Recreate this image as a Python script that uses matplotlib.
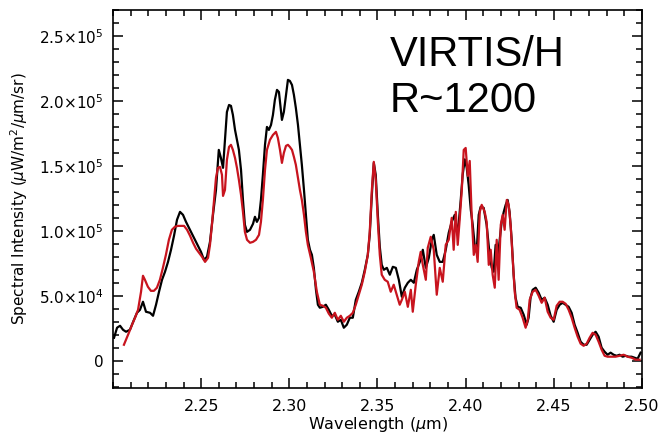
import numpy as np
import matplotlib
matplotlib.use('Agg')
import matplotlib.pyplot as plt
from matplotlib.ticker import MultipleLocator, FixedLocator

# ----------------------------------------------------------------------------------------------------------------------
# spectra (wavelength in um, intensity in uW/m2/um/sr)

wl_obs = [2.2006, 2.2023, 2.2040, 2.2057, 2.2074, 2.2096, 2.2119, 2.2136, 2.2153, 2.2170,
          2.2187, 2.2210, 2.2227, 2.2244, 2.2261, 2.2278, 2.2295, 2.2312, 2.2329, 2.2346,
          2.2363, 2.2380, 2.2397, 2.2414, 2.2431, 2.2448, 2.2465, 2.2482, 2.2499, 2.2516,
          2.2533, 2.2550, 2.2567, 2.2584, 2.2600, 2.2612, 2.2624, 2.2635, 2.2646, 2.2658,
          2.2669, 2.2680, 2.2692, 2.2703, 2.2714, 2.2726, 2.2737, 2.2748, 2.2760, 2.2777,
          2.2794, 2.2805, 2.2816, 2.2828, 2.2839, 2.2850, 2.2862, 2.2873, 2.2884, 2.2896,
          2.2907, 2.2918, 2.2930, 2.2941, 2.2952, 2.2958, 2.2969, 2.2981, 2.2992, 2.3003,
          2.3015, 2.3026, 2.3037, 2.3049, 2.3060, 2.3071, 2.3083, 2.3094, 2.3105, 2.3117,
          2.3128, 2.3139, 2.3151, 2.3162, 2.3173, 2.3190, 2.3207, 2.3224, 2.3241, 2.3258,
          2.3275, 2.3292, 2.3309, 2.3326, 2.3343, 2.3360, 2.3377, 2.3394, 2.3411, 2.3428,
          2.3445, 2.3456, 2.3468, 2.3479, 2.3490, 2.3502, 2.3513, 2.3524, 2.3536, 2.3553,
          2.3570, 2.3587, 2.3604, 2.3621, 2.3638, 2.3655, 2.3672, 2.3689, 2.3706, 2.3723,
          2.3740, 2.3757, 2.3774, 2.3791, 2.3808, 2.3819, 2.3836, 2.3853, 2.3870, 2.3887,
          2.3904, 2.3921, 2.3938, 2.3955, 2.3972, 2.3983, 2.3995, 2.4006, 2.4017, 2.4029,
          2.4040, 2.4051, 2.4063, 2.4074, 2.4085, 2.4102, 2.4119, 2.4136, 2.4148, 2.4159,
          2.4170, 2.4182, 2.4193, 2.4204, 2.4216, 2.4227, 2.4238, 2.4249, 2.4261, 2.4272,
          2.4283, 2.4295, 2.4312, 2.4329, 2.4346, 2.4357, 2.4368, 2.4380, 2.4397, 2.4414,
          2.4431, 2.4448, 2.4465, 2.4482, 2.4499, 2.4516, 2.4533, 2.4550, 2.4567, 2.4584,
          2.4601, 2.4618, 2.4635, 2.4652, 2.4669, 2.4686, 2.4703, 2.4720, 2.4737, 2.4754,
          2.4771, 2.4788, 2.4805, 2.4822, 2.4839, 2.4856, 2.4873, 2.4890, 2.4907, 2.4924,
          2.4941, 2.4958, 2.4975, 2.4992]
obs = [17700, 25400, 26900, 23800, 22300, 23800, 31500, 36900, 39200, 45400,
       37700, 36900, 34600, 43100, 53100, 62300, 68500, 76100, 85400, 96200,
       108500, 114600, 112300, 106900, 102300, 97700, 93100, 88500, 83800, 77700,
       80000, 91500, 112300, 131500, 162300, 156100, 148500, 170000, 191500, 196900,
       196200, 189200, 177700, 170000, 162300, 146900, 123800, 104600, 99200, 100800,
       105400, 110800, 106900, 110000, 123800, 143100, 166200, 180000, 177700, 181500,
       189200, 200800, 208500, 206900, 193100, 185400, 191500, 204600, 216200, 215400,
       212300, 204600, 194600, 181500, 166200, 150800, 131500, 112300, 93100, 85400,
       81500, 71500, 54600, 43100, 40800, 41500, 43100, 39200, 34600, 35400,
       30000, 31500, 25400, 27700, 33100, 33100, 46900, 53100, 60000, 70000,
       81500, 96900, 127700, 152300, 143100, 112300, 87700, 73800, 70000, 71500,
       66200, 72300, 71500, 62300, 49200, 56200, 60000, 62300, 60000, 70000,
       76100, 85400, 71500, 79200, 93100, 96900, 81500, 76100, 76100, 85400,
       98500, 106900, 112300, 96900, 123800, 143100, 155000, 148500, 135400, 116200,
       104600, 89200, 85400, 112300, 118500, 117700, 104600, 81500, 71500, 68500,
       89200, 79200, 93100, 106900, 114600, 120000, 123800, 114600, 93100, 66200,
       48500, 41500, 40800, 35400, 27700, 33100, 48500, 54600, 56200, 52300,
       46900, 48500, 43100, 34600, 30000, 39200, 43100, 44600, 43100, 41500,
       36900, 27700, 21500, 14600, 12300, 12300, 16200, 20000, 22300, 18500,
       10000, 6900, 4600, 6200, 4600, 3800, 4600, 3100, 3800, 3100,
       3100, 2300, 1500, 6200]

wl_mod = [2.2062, 2.2074, 2.2090, 2.2108, 2.2125, 2.2142, 2.2159, 2.2170, 2.2181, 2.2198,
          2.2215, 2.2232, 2.2249, 2.2266, 2.2283, 2.2300, 2.2317, 2.2334, 2.2351, 2.2368,
          2.2386, 2.2403, 2.2420, 2.2437, 2.2454, 2.2471, 2.2488, 2.2505, 2.2522, 2.2539,
          2.2550, 2.2561, 2.2573, 2.2584, 2.2595, 2.2607, 2.2618, 2.2624, 2.2635, 2.2646,
          2.2658, 2.2669, 2.2680, 2.2692, 2.2703, 2.2714, 2.2726, 2.2737, 2.2748, 2.2760,
          2.2777, 2.2794, 2.2811, 2.2828, 2.2839, 2.2850, 2.2862, 2.2873, 2.2890, 2.2907,
          2.2924, 2.2935, 2.2947, 2.2958, 2.2969, 2.2981, 2.2992, 2.3003, 2.3015, 2.3026,
          2.3037, 2.3049, 2.3060, 2.3071, 2.3083, 2.3094, 2.3105, 2.3122, 2.3139, 2.3156,
          2.3173, 2.3190, 2.3207, 2.3224, 2.3241, 2.3258, 2.3275, 2.3292, 2.3309, 2.3326,
          2.3343, 2.3360, 2.3377, 2.3394, 2.3411, 2.3428, 2.3445, 2.3456, 2.3468, 2.3479,
          2.3490, 2.3502, 2.3513, 2.3524, 2.3541, 2.3558, 2.3575, 2.3592, 2.3609, 2.3626,
          2.3638, 2.3655, 2.3672, 2.3689, 2.3700, 2.3717, 2.3734, 2.3745, 2.3757, 2.3774,
          2.3785, 2.3802, 2.3819, 2.3836, 2.3853, 2.3870, 2.3887, 2.3904, 2.3921, 2.3932,
          2.3944, 2.3955, 2.3966, 2.3978, 2.3989, 2.4000, 2.4012, 2.4023, 2.4034, 2.4046,
          2.4057, 2.4068, 2.4080, 2.4091, 2.4108, 2.4119, 2.4131, 2.4142, 2.4153, 2.4165,
          2.4176, 2.4187, 2.4199, 2.4210, 2.4221, 2.4233, 2.4244, 2.4255, 2.4267, 2.4278,
          2.4289, 2.4306, 2.4323, 2.4340, 2.4352, 2.4363, 2.4380, 2.4397, 2.4414, 2.4431,
          2.4448, 2.4465, 2.4482, 2.4499, 2.4516, 2.4533, 2.4550, 2.4567, 2.4584, 2.4601,
          2.4618, 2.4635, 2.4652, 2.4669, 2.4686, 2.4703, 2.4720, 2.4737, 2.4754, 2.4771,
          2.4788, 2.4805, 2.4828, 2.4850, 2.4873, 2.4896, 2.4918, 2.4941, 2.4964, 2.4986]
model = [12300, 16200, 21500, 27700, 33100, 39200, 53100, 65400, 62300, 56900,
         53800, 53800, 56200, 62300, 71500, 81500, 93100, 100800, 103100, 103800,
         103800, 103800, 100800, 96200, 90800, 86200, 83100, 80000, 76100, 79200,
         89200, 104600, 123800, 140800, 148500, 149200, 143100, 126900, 131500, 154600,
         164600, 166200, 162300, 156100, 148500, 139200, 127700, 114600, 99200, 93100,
         90800, 91500, 93100, 96900, 106900, 123800, 146900, 162300, 170000, 173800,
         176200, 171500, 162300, 152300, 160000, 165400, 166200, 164600, 162300, 156900,
         150800, 140800, 131500, 123800, 112300, 99200, 89200, 79200, 68500, 53100,
         43100, 42300, 40800, 36200, 33100, 36900, 31500, 34600, 30000, 33100,
         34600, 36900, 43100, 50800, 58500, 68500, 81500, 99200, 131500, 153100,
         139200, 106900, 81500, 66200, 62300, 60800, 53100, 58500, 50800, 43100,
         46900, 53100, 41500, 54600, 37700, 58500, 76100, 83800, 73800, 62300,
         86900, 95400, 85400, 50800, 71500, 60800, 89200, 93100, 110000, 85400,
         114600, 89200, 108500, 131500, 162300, 163800, 142300, 153800, 112300, 81500,
         89200, 76100, 114600, 120000, 114600, 106900, 73800, 85400, 66200, 56200,
         93100, 62300, 104600, 112300, 100800, 123800, 120000, 104600, 77700, 53100,
         40800, 39200, 33100, 25400, 31500, 46900, 53100, 54600, 50000, 44600,
         48500, 37700, 33100, 31500, 42300, 45400, 45400, 43800, 39200, 33100,
         25400, 18500, 13100, 11500, 13100, 17700, 21500, 20000, 14600, 8500,
         3800, 3100, 3100, 3100, 3800, 4600, 3100, 2300, 800, 800]

x_ticks = [2.25, 2.30, 2.35, 2.40, 2.45, 2.50]
y_ticks = [0, 5.0e4, 1.0e5, 1.5e5, 2.0e5, 2.5e5]
y_tick_labels = ['0', r'5.0$\times$10$^4$', r'1.0$\times$10$^5$', r'1.5$\times$10$^5$',
                 r'2.0$\times$10$^5$', r'2.5$\times$10$^5$']

# ----------------------------------------------------------------------------------------------------------------------
# figure

plt.rcParams['mathtext.fontset'] = 'dejavusans'
f = plt.figure(figsize=(6.64, 4.38), dpi=100)
ax = f.add_axes([113 / 664, 1 - 388 / 438, 529 / 664, 378 / 438])

ax.plot(wl_obs, obs, color='black', linewidth=1.6, zorder=3)
ax.plot(wl_mod, model, color='#c8141e', linewidth=1.6, zorder=4)

ax.set_xlim(2.2, 2.5)
ax.set_ylim(-2.1e4, 2.7e5)
ax.xaxis.set_major_locator(FixedLocator(x_ticks))
ax.xaxis.set_minor_locator(MultipleLocator(0.01))
ax.yaxis.set_major_locator(FixedLocator(y_ticks))
ax.yaxis.set_minor_locator(MultipleLocator(1e4))
ax.set_xticklabels(['%.2f' % t for t in x_ticks], fontsize=11.5)
ax.set_yticklabels(y_tick_labels, fontsize=11)
ax.tick_params(which='both', direction='in', top=True, right=True, width=1.1)
ax.tick_params(which='major', length=7, pad=7)
ax.tick_params(axis='x', which='major', pad=8)
ax.tick_params(which='minor', length=4)
for sp in ax.spines.values():
    sp.set_linewidth(1.2)

ax.set_xlabel(r'Wavelength ($\mu$m)', fontsize=11.5, labelpad=1)
ax.set_ylabel(r'Spectral Intensity ($\mu$W/m$^2$/$\mu$m/sr)', fontsize=11, labelpad=6)

f.text(390 / 664, 1 - 35 / 438, 'VIRTIS/H\nR~1200', family='Liberation Sans', fontsize=30,
       ha='left', va='top', linespacing=1.2)

f.savefig('out.png', dpi=100)
